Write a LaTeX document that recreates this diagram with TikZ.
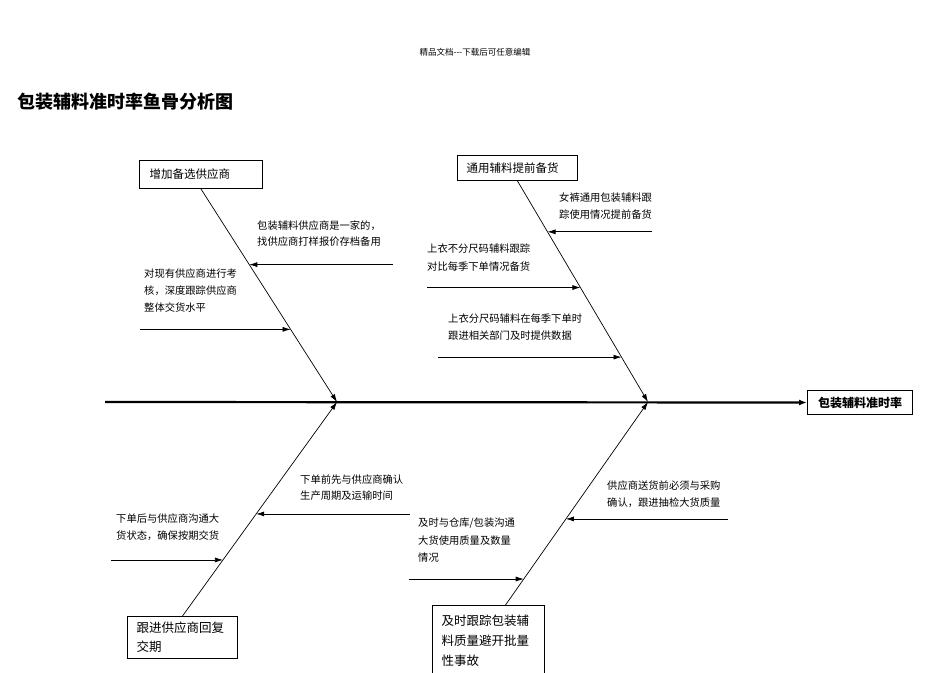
\documentclass[tikz,border=0pt]{standalone}
\usepackage{fontspec}
\setmainfont{Noto Sans CJK SC}
\usetikzlibrary{arrows.meta,calc}
\tikzset{
  spine/.style={line width=2.2pt,-{Latex[length=8pt,width=6pt]}},
  bone/.style={line width=0.7pt,-{Latex[length=8pt,width=5pt]}},
  twig/.style={line width=0.7pt,-{Latex[length=8pt,width=5pt]}},
  causebox/.style={draw,line width=1pt,align=left,inner ysep=0pt},
  note/.style={anchor=north west,align=left,inner sep=0pt},
}
\begin{document}
\begin{tikzpicture}[x=1pt,y=-1pt]
  \useasboundingbox (0,0) rectangle (950,672);

  \node (header) at (475,52) {\fontsize{8.5}{10}\selectfont 精品文档-{}-{}-下载后可任意编辑};
  \node[anchor=west,inner sep=0pt] (title) at (17,102) {\fontsize{18}{20}\selectfont\bfseries 包装辅料准时率鱼骨分析图};

  % head and spine
  \node[draw,line width=1pt,anchor=north west,minimum width=105pt,minimum height=24pt,
        font=\fontsize{12}{14}\selectfont\bfseries] (head) at (807,390) {包装辅料准时率};
  \coordinate (tail) at (105,402);
  \coordinate (j1) at (337,402);
  \coordinate (j2) at (648,402);
  \draw[spine] (tail) -- (head.west);

  % cause boxes
  \node[causebox,anchor=north west,inner xsep=10pt,text width=103pt,minimum height=28pt,
        font=\fontsize{11.5}{14}\selectfont] (supplier) at (139,160) {增加备选供应商};
  \node[causebox,anchor=north west,inner xsep=9pt,text width=102pt,minimum height=25pt,
        font=\fontsize{11.5}{14}\selectfont] (stock) at (457,155) {通用辅料提前备货};
  \node[causebox,anchor=north west,inner xsep=9pt,text width=92pt,minimum height=42pt,
        font=\fontsize{12.5}{19}\selectfont] (reply) at (127,616) {跟进供应商回复\\交期};
  \node[causebox,anchor=north west,inner xsep=9pt,text width=94pt,minimum height=70pt,
        font=\fontsize{12.5}{20}\selectfont] (quality) at (432,605) {及时跟踪包装辅\\料质量避开批量\\性事故};

  % bones
  \draw[bone] (supplier.south) -- (j1);
  \draw[bone] (stock.south) -- (j2);
  \draw[bone] (reply.north) -- (j1);
  \draw[bone] ([xshift=17pt]quality.north) -- (j2);

  % twigs
  \coordinate (a1) at ($(supplier.south)!0.355!(j1)$);
  \coordinate (a2) at ($(supplier.south)!0.659!(j1)$);
  \coordinate (b1) at ($(stock.south)!0.23!(j2)$);
  \coordinate (b2) at ($(stock.south)!0.482!(j2)$);
  \coordinate (b3) at ($(stock.south)!0.797!(j2)$);
  \coordinate (c1) at ($(reply.north)!0.477!(j1)$);
  \coordinate (c2) at ($(reply.north)!0.262!(j1)$);
  \coordinate (d1) at ($([xshift=17pt]quality.north)!0.424!(j2)$);
  \coordinate (d2) at ($([xshift=17pt]quality.north)!0.128!(j2)$);

  \draw[twig] (a1 -| 393,0) -- (a1);
  \draw[twig] (a2 -| 140,0) -- (a2);
  \draw[twig] (b1 -| 652,0) -- (b1);
  \draw[twig] (b2 -| 427,0) -- (b2);
  \draw[twig] (b3 -| 438,0) -- (b3);
  \draw[twig] (c1 -| 410,0) -- (c1);
  \draw[twig] (c2 -| 111,0) -- (c2);
  \draw[twig] (d1 -| 728,0) -- (d1);
  \draw[twig] (d2 -| 409,0) -- (d2);

  % notes
  \node[note,font=\fontsize{10.3}{16}\selectfont] (n1) at (257,221) {包装辅料供应商是一家的，\\找供应商打样报价存档备用};
  \node[note,font=\fontsize{10.3}{17}\selectfont] (n2) at (144,269) {对现有供应商进行考\\核，深度跟踪供应商\\整体交货水平};
  \node[note,font=\fontsize{10.3}{17}\selectfont] (n3) at (559,193) {女裤通用包装辅料跟\\踪使用情况提前备货};
  \node[note,font=\fontsize{10.3}{18}\selectfont] (n4) at (427,244) {上衣不分尺码辅料跟踪\\对比每季下单情况备货};
  \node[note,font=\fontsize{10.3}{17}\selectfont] (n5) at (448,314) {上衣分尺码辅料在每季下单时\\跟进相关部门及时提供数据};
  \node[note,font=\fontsize{10.3}{16}\selectfont] (n6) at (300,475) {下单前先与供应商确认\\生产周期及运输时间};
  \node[note,font=\fontsize{10.3}{17}\selectfont] (n7) at (116,514) {下单后与供应商沟通大\\货状态，确保按期交货};
  \node[note,font=\fontsize{10.3}{17}\selectfont] (n8) at (607,481) {供应商送货前必须与采购\\确认，跟进抽检大货质量};
  \node[note,font=\fontsize{10.3}{17.5}\selectfont] (n9) at (418,518) {及时与仓库/包装沟通\\大货使用质量及数量\\情况};
\end{tikzpicture}
\end{document}
